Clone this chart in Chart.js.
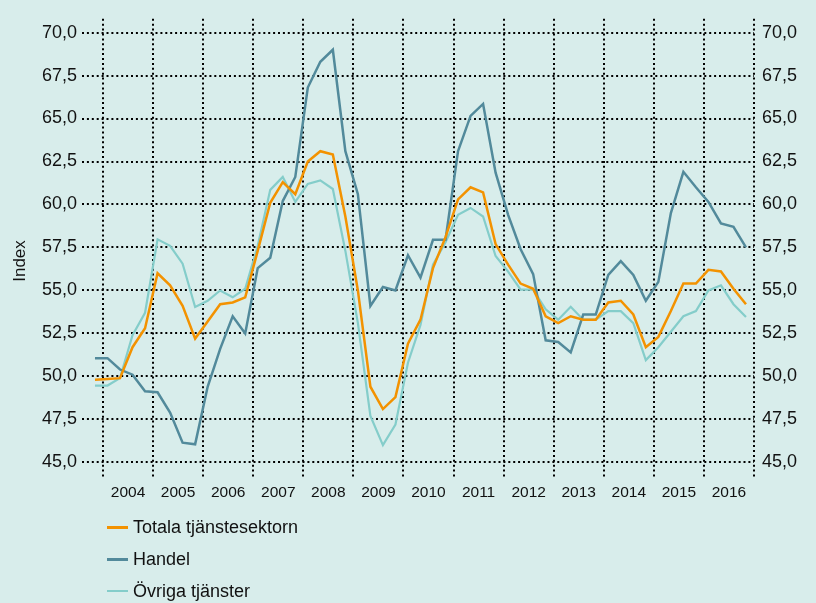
<!DOCTYPE html>
<html lang="sv">
<head>
<meta charset="utf-8">
<title>Index – tjänstesektorn</title>
<script src="https://cdn.jsdelivr.net/npm/chart.js@4.4.1/dist/chart.umd.min.js"></script>
<style>
  html, body { margin: 0; padding: 0; background: #d8edeb; }
  #wrap { position: relative; width: 816px; height: 603px; }
  #legend {
    position: absolute; left: 107px; top: 511px;
    font: 18px "Liberation Sans", Arial, sans-serif; color: #111;
  }
  #legend .item { display: flex; align-items: center; height: 32px; }
  #legend .swatch { display: inline-block; width: 21px; margin-right: 5px; }
</style>
</head>
<body>
<div id="wrap">
  <canvas id="chart" width="816" height="603"></canvas>
  <div id="legend"></div>
</div>
<script>
const years = ["2004", "2005", "2006", "2007", "2008", "2009", "2010",
               "2011", "2012", "2013", "2014", "2015", "2016"]
const yTicks = [45, 47.5, 50, 52.5, 55, 57.5, 60, 62.5, 65, 67.5, 70]

// quarterly values, first one sits just before the 2004 line
const firstPoint = 2003.84

const totala = [49.8, 49.85, 49.9, 51.7, 52.8, 56.0, 55.3, 54.1, 52.2, 53.2, 54.2, 54.3, 54.6,
                57.3, 60.1, 61.3, 60.6, 62.5, 63.1, 62.9, 59.3, 55.0, 49.4, 48.1, 48.8, 51.9,
                53.3, 56.3, 58.1, 60.3, 61.0, 60.7, 57.7, 56.5, 55.4, 55.1, 53.5, 53.1, 53.5,
                53.3, 53.3, 54.3, 54.4, 53.6, 51.7, 52.3, 53.8, 55.4, 55.4, 56.2, 56.1, 55.1, 54.2]

const handel = [51.06, 51.06, 50.4, 50.1, 49.14, 49.08, 47.9, 46.15, 46.05, 49.4, 51.6, 53.5, 52.5,
                56.3, 56.9, 60.2, 61.6, 66.8, 68.3, 69.0, 63.1, 60.6, 54.1, 55.2, 55.0, 57.05,
                55.75, 57.95, 57.95, 63.1, 65.15, 65.85, 61.85, 59.4, 57.4, 55.95, 52.1, 52.0, 51.4,
                53.6, 53.6, 55.9, 56.7, 55.9, 54.4, 55.5, 59.5, 61.9, 61.0, 60.15, 58.9, 58.7, 57.5]

const ovriga = [49.47, 49.47, 49.9, 52.4, 53.7, 57.97, 57.6, 56.56, 54.04, 54.4, 55.0, 54.6, 55.1,
                57.6, 60.85, 61.6, 60.15, 61.2, 61.4, 60.9, 57.3, 53.1, 47.7, 46.0, 47.2, 50.8,
                53.0, 56.5, 57.8, 59.4, 59.8, 59.3, 57.0, 56.1, 55.05, 55.05, 53.9, 53.3, 54.05,
                53.3, 53.3, 53.8, 53.8, 53.1, 50.95, 51.7, 52.6, 53.5, 53.8, 55.0, 55.3, 54.2, 53.45]

const toPoints = vals => vals.map((v, i) => ({ x: firstPoint + i / 4, y: v }))

const FONT = '"Liberation Sans", Arial, sans-serif'
const TEXT = "#111"

const yTickOpts = {
  callback: v => v.toFixed(1).replace(".", ","),
  font: { family: FONT, size: 18 },
  color: TEXT
}

const axisTitle = {
  id: "axisTitle",
  afterDraw(chart) {
    const ctx = chart.ctx
    ctx.save()
    ctx.translate(20, 261)
    ctx.rotate(-Math.PI / 2)
    ctx.font = `17px ${FONT}`
    ctx.fillStyle = TEXT
    ctx.textAlign = "center"
    ctx.textBaseline = "middle"
    ctx.fillText("Index", 0, 0)
    ctx.restore()
  }
}

const chart = new Chart(document.getElementById("chart"), {
  type: "line",
  data: {
    datasets: [
      { label: "Totala tjänstesektorn", data: toPoints(totala), borderColor: "#f39200", borderWidth: 2.5, legendWidth: 3 },
      { label: "Handel", data: toPoints(handel), borderColor: "#528a9b", borderWidth: 2.5, legendWidth: 3 },
      { label: "Övriga tjänster", data: toPoints(ovriga), borderColor: "#84cdca", borderWidth: 2.2, legendWidth: 1.5 }
    ]
  },
  options: {
    responsive: false,
    animation: false,
    layout: { padding: { top: 7, bottom: 96, left: 0, right: 0 } },
    elements: { point: { radius: 0 }, line: { tension: 0 } },
    plugins: { legend: { display: false }, tooltip: { enabled: false } },
    scales: {
      x: {
        type: "linear",
        min: 2003.581,
        max: 2017,
        afterBuildTicks: s => {
          const t = []
          years.forEach(y => { t.push({ value: +y }); t.push({ value: +y + 0.5 }) })
          t.push({ value: +years[years.length - 1] + 1 })
          s.ticks = t
        },
        afterFit: s => { s.height = 30 },
        ticks: {
          autoSkip: false,
          maxRotation: 0,
          padding: 6,
          callback: v => Number.isInteger(v) ? "" : String(Math.floor(v)),
          font: { family: FONT, size: 15.5 },
          color: TEXT
        },
        grid: {
          drawTicks: false,
          lineWidth: 2,
          color: c => (c.tick && Number.isInteger(c.tick.value)) ? "#000" : "rgba(0,0,0,0)"
        },
        border: { display: false, dash: [2, 2.9] }
      },
      y: {
        position: "left",
        min: 44.15,
        max: 70.8,
        afterBuildTicks: s => { s.ticks = yTicks.map(v => ({ value: v })) },
        afterFit: s => { s.width = 82 },
        ticks: { ...yTickOpts, padding: 5 },
        grid: { drawTicks: false, lineWidth: 2, color: "#000" },
        border: { display: false, dash: [2, 2.9] }
      },
      y2: {
        position: "right",
        min: 44.15,
        max: 70.8,
        afterBuildTicks: s => { s.ticks = yTicks.map(v => ({ value: v })) },
        afterFit: s => { s.width = 62 },
        ticks: { ...yTickOpts, padding: 8 },
        grid: { display: false, drawTicks: false },
        border: { display: false }
      }
    }
  },
  plugins: [axisTitle]
})

// legend stacked under the plot, like the original
const legend = document.getElementById("legend")
chart.data.datasets.forEach(ds => {
  const row = document.createElement("div")
  row.className = "item"
  const sw = document.createElement("span")
  sw.className = "swatch"
  sw.style.height = ds.legendWidth + "px"
  sw.style.background = ds.borderColor
  const txt = document.createElement("span")
  txt.textContent = ds.label
  row.append(sw, txt)
  legend.append(row)
})
</script>
</body>
</html>
